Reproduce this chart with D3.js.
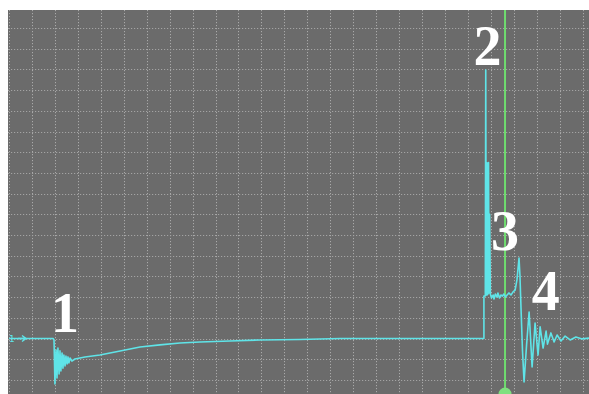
<!DOCTYPE html>
<html>
<head>
<meta charset="utf-8">
<script src="https://cdn.jsdelivr.net/npm/d3@7"></script>
<style>
  html, body { margin: 0; padding: 0; background: #ffffff; }
  svg { display: block; }
</style>
</head>
<body>
<svg id="scope" width="589" height="394"></svg>
<script>
// Time in screen divisions, amplitude in vertical divisions above the baseline.
const traceTime = [
  -1.00, 0.92, 0.96, 1.00, 1.05, 1.09, 1.13, 1.18, 1.22, 1.26, 1.31, 1.35, 1.39, 1.44,
  1.48, 1.53, 1.57, 1.61, 1.66, 1.74, 1.87, 2.31, 2.96, 3.84, 4.71, 5.58, 6.45, 7.32,
  8.63, 9.94, 11.68, 13.43, 19.70, 19.70, 19.76, 19.78, 19.80, 19.82, 19.84, 19.86,
  19.88, 19.90, 19.92, 19.95, 19.98, 20.03, 20.10, 20.14, 20.20, 20.27, 20.31, 20.38,
  20.44, 20.51, 20.57, 20.64, 20.71, 20.79, 20.88, 20.97, 21.06, 21.14, 21.19, 21.23,
  21.27, 21.32, 21.38, 21.45, 21.56, 21.67, 21.80, 21.93, 22.06, 22.15, 22.28, 22.41,
  22.47, 22.62, 22.76, 22.89, 23.06, 23.24, 23.46, 23.71, 23.98, 24.28
];
const traceLevel = [
  0.00, 0.00, -0.07, -2.20, -0.56, -1.91, -0.46, -1.71, -0.60, -1.57, -0.70, -1.43, -0.80, -1.33,
  -0.85, -1.23, -0.89, -1.18, -0.94, -1.09, -0.99, -0.89, -0.80, -0.60, -0.41, -0.31, -0.22, -0.17,
  -0.12, -0.07, -0.05, 0.00, 0.00, 2.05, 2.05, 12.97, 2.10, 8.50, 2.10, 8.45,
  2.15, 8.50, 2.20, 6.00, 2.15, 1.96, 2.10, 1.91, 2.15, 2.00, 2.20, 1.96,
  2.10, 2.05, 2.15, 2.00, 2.10, 2.20, 2.10, 2.25, 2.34, 2.83, 3.41, 3.89,
  3.07, 1.38, -0.56, -2.10, -0.31, 1.28, -1.38, 0.75, -0.80, 0.56, -0.46, 0.36,
  -0.27, 0.27, -0.17, 0.17, -0.12, 0.12, -0.07, 0.07, -0.02, 0.02
];

// Event numbers and where they sit (time, level of the text baseline).
const eventLabels = ["1", "2", "3", "4"];
const eventTime = [1.44, 19.86, 20.62, 22.40];
const eventLevel = [0.32, 13.20, 4.28, 1.38];

// Grid divisions and the measurement cursor.
const gridTime = d3.range(-1, 25);
const gridLevel = d3.range(-2, 16);
const cursorTime = [20.62];

const svg = d3.select("#scope");
const W = 589, H = 394;

const x = d3.scaleLinear().domain([0, 24]).range([32, 32 + 22.94 * 24]);
const y = d3.scaleLinear().domain([0, 15]).range([338.5, 338.5 - 20.7 * 15]);

const panel = { left: 8, top: 10, right: W, bottom: H };

svg.append("rect")
  .attr("x", panel.left).attr("y", panel.top)
  .attr("width", panel.right - panel.left).attr("height", panel.bottom - panel.top)
  .attr("fill", "#6b6b6b");

svg.append("clipPath").attr("id", "panelClip")
  .append("rect")
  .attr("x", panel.left).attr("y", panel.top)
  .attr("width", panel.right - panel.left).attr("height", panel.bottom - panel.top);

const plot = svg.append("g").attr("clip-path", "url(#panelClip)");

// dotted graticule
plot.append("g").selectAll("line")
  .data(gridTime.filter(t => x(t) > panel.left + 1))
  .join("line")
  .attr("x1", d => Math.round(x(d)) + 0.5).attr("x2", d => Math.round(x(d)) + 0.5)
  .attr("y1", panel.top).attr("y2", panel.bottom)
  .attr("stroke", "#a9a9a9").attr("stroke-width", 1)
  .attr("stroke-dasharray", "1.2,1.8");

plot.append("g").selectAll("line")
  .data(gridLevel)
  .join("line")
  .attr("x1", panel.left).attr("x2", panel.right)
  .attr("y1", d => Math.round(y(d)) + 0.5).attr("y2", d => Math.round(y(d)) + 0.5)
  .attr("stroke", "#a3a3a3").attr("stroke-width", 1)
  .attr("stroke-dasharray", "1.2,1.8");

// cursor
plot.append("g").selectAll("line")
  .data(cursorTime)
  .join("line")
  .attr("x1", d => x(d)).attr("x2", d => x(d))
  .attr("y1", panel.top).attr("y2", panel.bottom - 6)
  .attr("stroke", "#6fdc6f").attr("stroke-width", 2);

plot.append("g").selectAll("circle")
  .data(cursorTime)
  .join("circle")
  .attr("cx", d => x(d)).attr("cy", panel.bottom)
  .attr("r", 6.5)
  .attr("fill", "#7fe07f");

// waveform
const pts = traceTime.map((t, i) => [t, traceLevel[i]]);
const line = d3.line().x(d => x(d[0])).y(d => y(d[1]));

plot.append("path")
  .datum(pts)
  .attr("d", line)
  .attr("fill", "none")
  .attr("stroke", "#5fe4e8")
  .attr("stroke-width", 1.6)
  .attr("stroke-linejoin", "round");

// channel ground marker on the left edge
const gy = y(0);
const marker = svg.append("g").attr("fill", "#5fe4e8").attr("stroke", "#5fe4e8");
marker.append("text")
  .attr("x", 9).attr("y", gy + 3.5)
  .attr("font-family", "DejaVu Sans, sans-serif")
  .attr("font-size", 9).attr("stroke", "none")
  .text("1");
marker.append("path")
  .attr("d", `M18,${gy} L26,${gy} M22,${gy - 3} L26,${gy} L22,${gy + 3}`)
  .attr("fill", "none").attr("stroke-width", 1.4);

// event numbers
svg.append("g").selectAll("text")
  .data(eventLabels)
  .join("text")
  .attr("x", (d, i) => x(eventTime[i]))
  .attr("y", (d, i) => y(eventLevel[i]))
  .attr("text-anchor", "middle")
  .attr("font-family", "Liberation Serif, Times New Roman, serif")
  .attr("font-weight", "bold")
  .attr("font-size", 56)
  .attr("fill", "#ffffff")
  .text(d => d);
</script>
</body>
</html>
